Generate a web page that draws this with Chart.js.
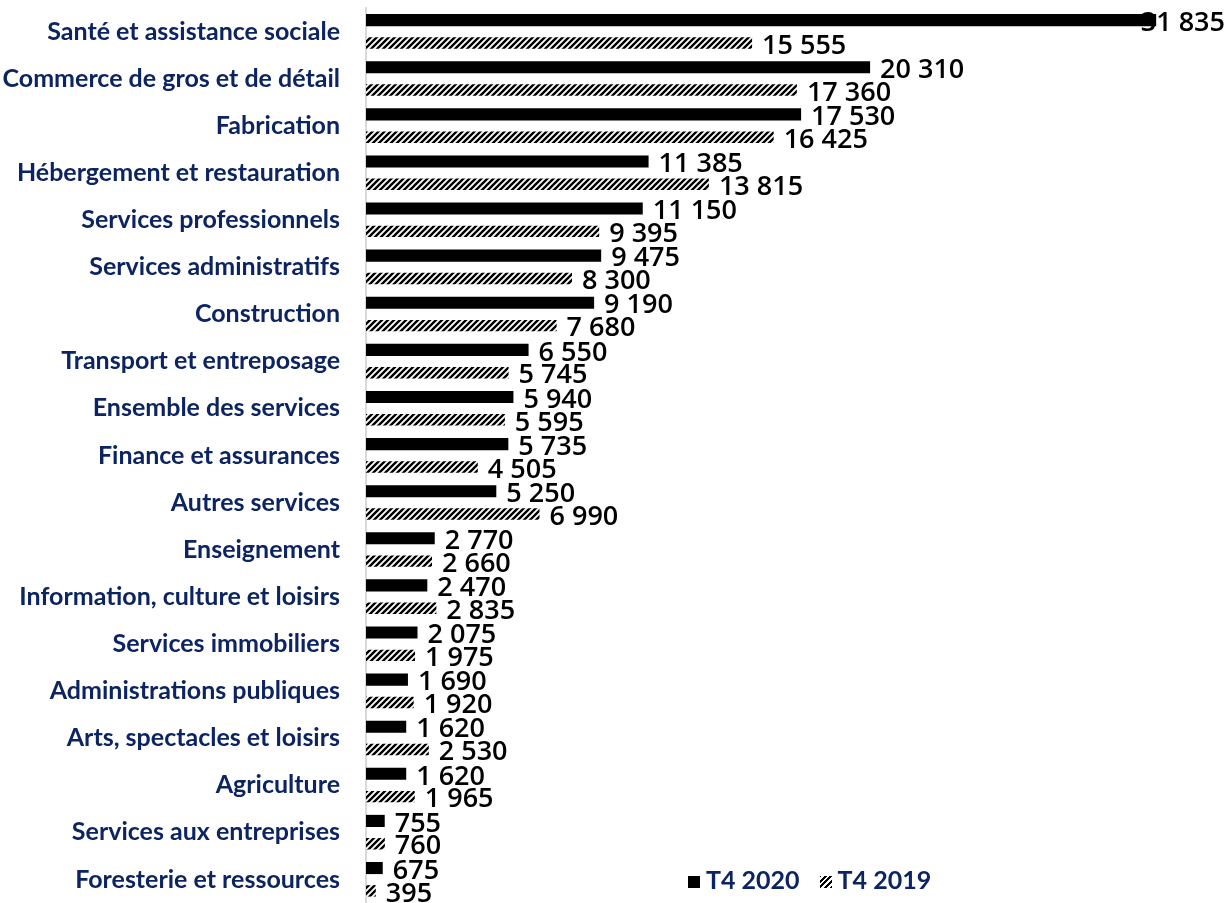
<!DOCTYPE html>
<html>
<head>
<meta charset="utf-8">
<script src="https://cdn.jsdelivr.net/npm/chart.js@4/dist/chart.umd.min.js"></script>
<style>
  body { margin: 0; background: #fff; }
  #wrap { position: relative; width: 1231px; height: 903px; }
  #legend { position: absolute; left: 688px; top: 864px; font: bold 25px Lato, sans-serif; color: #0c2461; white-space: nowrap; }
  #legend span.item { margin-right: 20px; }
  #legend .box { display: inline-block; width: 12px; height: 12px; margin-right: 6px; vertical-align: 1px; }
</style>
</head>
<body>
<div id="wrap">
  <canvas id="chart" width="1231" height="903"></canvas>
  <div id="legend"></div>
</div>
<script>
var categories = [
	'Santé et assistance sociale',
	'Commerce de gros et de détail',
	'Fabrication',
	'Hébergement et restauration',
	'Services professionnels',
	'Services administratifs',
	'Construction',
	'Transport et entreposage',
	'Ensemble des services',
	'Finance et assurances',
	'Autres services',
	'Enseignement',
	'Information, culture et loisirs',
	'Services immobiliers',
	'Administrations publiques',
	'Arts, spectacles et loisirs',
	'Agriculture',
	'Services aux entreprises',
	'Foresterie et ressources'
];
var seriesNames = ['T4 2020', 'T4 2019'];
var values2020 = [31835, 20310, 17530, 11385, 11150, 9475, 9190, 6550, 5940, 5735, 5250, 2770, 2470, 2075, 1690, 1620, 1620, 755, 675];
var values2019 = [15555, 17360, 16425, 13815, 9395, 8300, 7680, 5745, 5595, 4505, 6990, 2660, 2835, 1975, 1920, 2530, 1965, 760, 395];

var navy = '#0c2461';

// diagonal hatch for the 2019 bars
function makeHatch() {
	var c = document.createElement('canvas');
	c.width = 6; c.height = 6;
	var g = c.getContext('2d');
	g.fillStyle = '#fff';
	g.fillRect(0, 0, 6, 6);
	g.strokeStyle = '#000';
	g.lineWidth = 2.4;
	g.beginPath();
	g.moveTo(-1, 7); g.lineTo(7, -1);
	g.moveTo(-4, 4); g.lineTo(4, -4);
	g.moveTo(2, 10); g.lineTo(10, 2);
	g.stroke();
	return g.createPattern(c, 'repeat');
}
var hatch = makeHatch();

function fmt(n) {
	return String(n).replace(/\B(?=(\d{3})+(?!\d))/g, ' ');
}

// value labels at the end of each bar
var barLabels = {
	id: 'barLabels',
	afterDatasetsDraw: function(chart) {
		var ctx = chart.ctx;
		ctx.save();
		ctx.font = '600 27px "Open Sans", sans-serif';
		ctx.fillStyle = '#000';
		ctx.textBaseline = 'middle';
		chart.data.datasets.forEach(function(ds, i) {
			var meta = chart.getDatasetMeta(i);
			meta.data.forEach(function(bar, j) {
				var txt = fmt(ds.data[j]);
				var w = ctx.measureText(txt).width;
				var x = bar.x + 10;
				if (x + w > chart.width - 6) x = chart.width - 6 - w;
				ctx.fillText(txt, x, bar.y + 3);
			});
		});
		ctx.restore();
	}
};

var ctx = document.getElementById('chart');
new Chart(ctx, {
	type: 'bar',
	data: {
		labels: categories,
		datasets: [
			{ label: seriesNames[0], data: values2020, backgroundColor: '#000', categoryPercentage: 0.97, barPercentage: 0.53 },
			{ label: seriesNames[1], data: values2019, backgroundColor: hatch, categoryPercentage: 0.97, barPercentage: 0.5 }
		]
	},
	options: {
		indexAxis: 'y',
		responsive: false,
		animation: false,
		devicePixelRatio: 1,
		layout: { padding: { top: 8, bottom: 0, left: 0, right: 0 } },
		plugins: { legend: { display: false }, tooltip: { enabled: false } },
		scales: {
			x: { display: false, min: 0, max: 34850 },
			y: {
				afterFit: function(scale) {
					scale.width = 366;
					scale.paddingTop = 0;
					scale.paddingBottom = 0;
				},
				grid: { display: false, drawTicks: false },
				border: { display: true, color: '#d9d9d9', width: 2 },
				ticks: { color: navy, padding: 26, autoSkip: false, font: { family: 'Lato', weight: 'bold', size: 25 } }
			}
		}
	},
	plugins: [barLabels]
});

// html legend
var legend = document.getElementById('legend');
var hatchCss = 'repeating-linear-gradient(-45deg, #000 0 2px, #fff 2px 4px)';
legend.innerHTML =
	'<span class="item"><span class="box" style="background:#000"></span>' + seriesNames[0] + '</span>' +
	'<span class="item"><span class="box" style="background:' + hatchCss + '"></span>' + seriesNames[1] + '</span>';
</script>
</body>
</html>
